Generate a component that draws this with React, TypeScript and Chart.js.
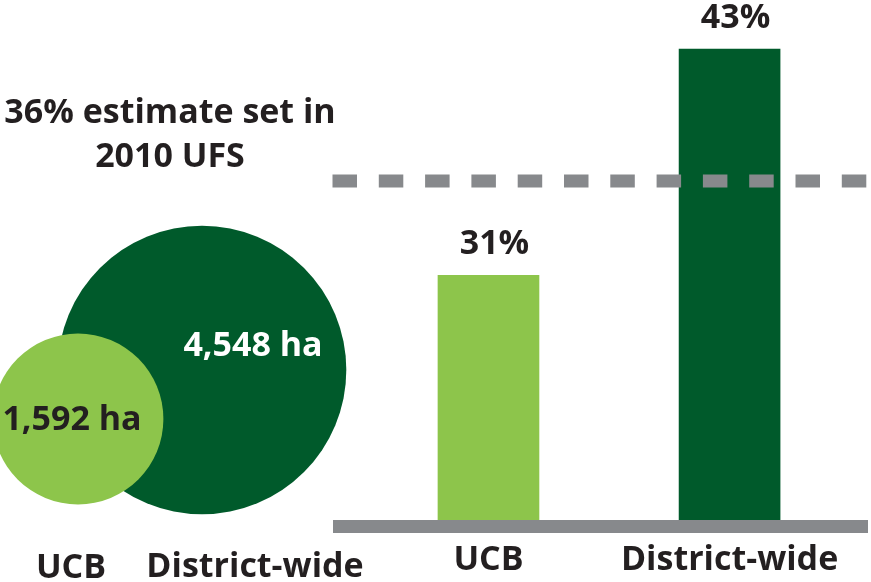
import React, { useEffect, useRef } from "react";
import { Chart, registerables } from "chart.js";

Chart.register(...registerables);

// ---- data ----
const CATEGORIES = ["UCB", "District-wide"];
const AREA_HA = [1592, 4548];
const SHARE_PCT = [31, 43];
const TARGET_PCT = 36;
const TARGET_LABEL = ["36% estimate set in", "2010 UFS"];

// ---- styles / layout ----
const LIGHT = "#8dc54b";
const DARK = "#005a2b";
const GREY = "#87898c";
const INK = "#231f20";
const FAMILY = "'Open Sans', 'Noto Sans', sans-serif";
const FONT_SIZE = 34;
const W = 871;
const H = 582;
const LEFT_W = 400;
const BUBBLE_CENTERS = [
  { x: 78, y: 419 },
  { x: 202, y: 370 },
];
const RADIUS_K = 2.14;
const AREA_LABEL_POS = [
  { x: 72, y: 430 },
  { x: 253, y: 356 },
];
const AREA_LABEL_COLORS = [INK, "#ffffff"];
const LEFT_TICK_POS = [
  { x: 71, y: 578 },
  { x: 255, y: 577 },
];
const TARGET_LABEL_POS = { x: 170, y: [123, 167] };
const BAR_X_MIN = -0.62;
const BAR_X_MAX = 1.57;
const BAR_Y_MIN = 17.7;
const BAR_Y_MAX = 45.6;

const font = (size = FONT_SIZE) => `bold ${size}px ${FAMILY}`;

export default function App() {
  const leftRef = useRef<HTMLCanvasElement | null>(null);
  const rightRef = useRef<HTMLCanvasElement | null>(null);

  useEffect(() => {
    const areaLabels = AREA_HA.map((v) => v.toLocaleString("en-US") + " ha");
    const pctLabels = SHARE_PCT.map((v) => v + "%");

    const bubbleLabels = {
      id: "bubbleLabels",
      afterDatasetsDraw(chart: any) {
        const { ctx } = chart;
        const xs = chart.scales.x;
        const ys = chart.scales.y;
        ctx.save();
        ctx.font = font();
        ctx.textAlign = "center";
        ctx.textBaseline = "alphabetic";
        AREA_LABEL_POS.forEach((p, i) => {
          ctx.fillStyle = AREA_LABEL_COLORS[i];
          ctx.fillText(areaLabels[i], xs.getPixelForValue(p.x), ys.getPixelForValue(p.y));
        });
        ctx.fillStyle = INK;
        LEFT_TICK_POS.forEach((p, i) => {
          ctx.fillText(CATEGORIES[i], xs.getPixelForValue(p.x), ys.getPixelForValue(p.y));
        });
        TARGET_LABEL.forEach((line, i) => {
          ctx.fillText(
            line,
            xs.getPixelForValue(TARGET_LABEL_POS.x),
            ys.getPixelForValue(TARGET_LABEL_POS.y[i])
          );
        });
        ctx.restore();
      },
    };

    const left = new Chart(leftRef.current!, {
      type: "bubble",
      data: {
        datasets: CATEGORIES.map((c, i) => ({
          label: c,
          data: [
            {
              x: BUBBLE_CENTERS[i].x,
              y: BUBBLE_CENTERS[i].y,
              r: RADIUS_K * Math.sqrt(AREA_HA[i]),
            },
          ],
          backgroundColor: i === 0 ? LIGHT : DARK,
          borderWidth: 0,
          hoverRadius: 0,
          clip: false as any,
        })),
      },
      options: {
        responsive: false,
        animation: false,
        events: [],
        layout: { padding: 0, autoPadding: false },
        plugins: { legend: { display: false }, tooltip: { enabled: false } },
        scales: {
          x: { type: "linear", display: false, min: 0, max: LEFT_W },
          y: { type: "linear", display: false, min: 0, max: H, reverse: true },
        },
      },
      plugins: [bubbleLabels],
    });

    const barExtras = {
      id: "barExtras",
      afterDatasetsDraw(chart: any) {
        const { ctx, chartArea } = chart;
        const ys = chart.scales.y;
        const borderW = chart.options.scales.x.border.width;
        const yT = ys.getPixelForValue(TARGET_PCT);
        ctx.save();
        ctx.strokeStyle = GREY;
        ctx.lineWidth = 13;
        ctx.lineCap = "butt";
        ctx.setLineDash([24.5, 21.8]);
        ctx.beginPath();
        ctx.moveTo(chartArea.left - borderW / 2, yT);
        ctx.lineTo(chartArea.right + 1, yT);
        ctx.stroke();
        ctx.setLineDash([]);
        const meta = chart.getDatasetMeta(0);
        ctx.font = font();
        ctx.fillStyle = INK;
        ctx.textAlign = "center";
        ctx.textBaseline = "alphabetic";
        meta.data.forEach((bar: any, i: number) => {
          ctx.fillText(pctLabels[i], bar.x + 6, bar.y - 21);
        });
        ctx.restore();
      },
    };

    const right = new Chart(rightRef.current!, {
      type: "bar",
      data: {
        datasets: [
          {
            label: "Share",
            data: SHARE_PCT.map((v, i) => ({ x: i, y: v })),
            backgroundColor: [LIGHT, DARK],
            borderWidth: 0,
            barThickness: 101,
          },
        ],
      },
      options: {
        responsive: false,
        animation: false,
        events: [],
        layout: { padding: { left: 339, right: 4, top: 0, bottom: 0 }, autoPadding: false },
        plugins: { legend: { display: false }, tooltip: { enabled: false } },
        scales: {
          x: {
            type: "linear",
            offset: false,
            min: BAR_X_MIN,
            max: BAR_X_MAX,
            grid: { display: false, offset: false },
            border: { display: true, color: GREY, width: 13, z: 1 },
            afterBuildTicks: (s: any) => {
              s.ticks = CATEGORIES.map((_, i) => ({ value: i }));
            },
            afterFit: (s: any) => {
              s.height = 56;
            },
            ticks: {
              autoSkip: false,
              maxRotation: 0,
              padding: 6,
              color: INK,
              font: { family: FAMILY, size: FONT_SIZE, weight: "bold" },
              callback: (v: any) => CATEGORIES[v] ?? "",
            },
          },
          y: { type: "linear", display: false, min: BAR_Y_MIN, max: BAR_Y_MAX },
        },
      },
      plugins: [barExtras],
    });

    return () => {
      left.destroy();
      right.destroy();
    };
  }, []);

  return (
    <div style={{ position: "absolute", left: 0, top: 0, width: W, height: H, background: "#fff" }}>
      <canvas ref={leftRef} width={LEFT_W} height={H} style={{ position: "absolute", left: 0, top: 0 }} />
      <canvas ref={rightRef} width={W} height={H} style={{ position: "absolute", left: 0, top: 0 }} />
    </div>
  );
}
